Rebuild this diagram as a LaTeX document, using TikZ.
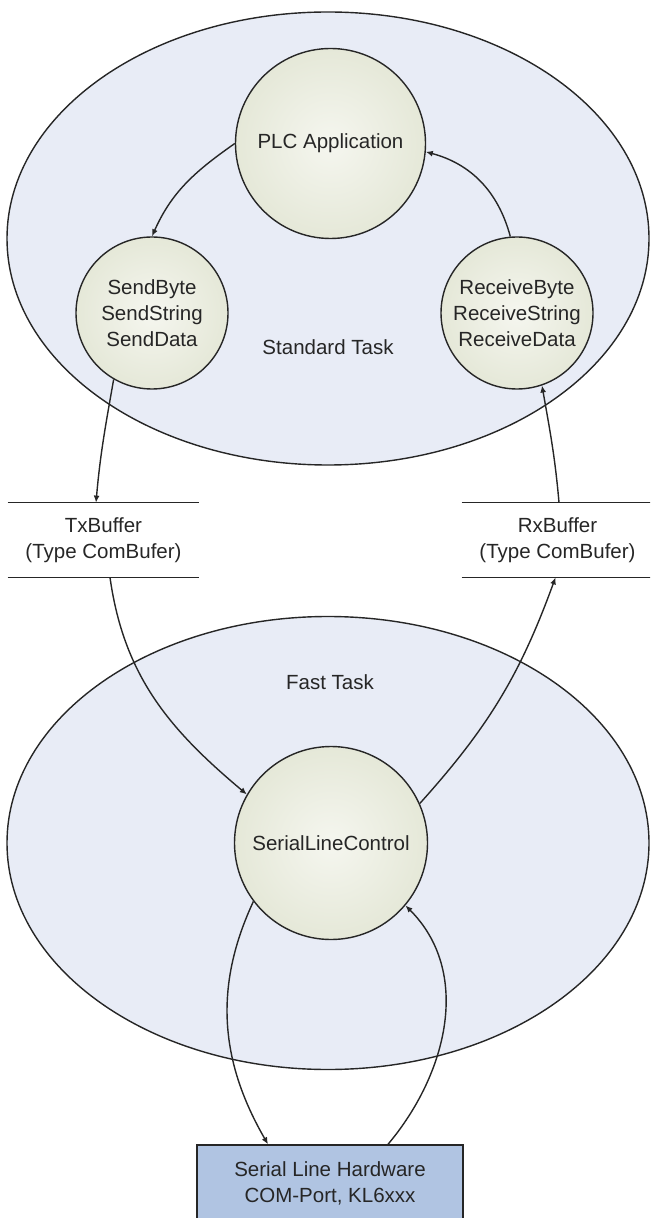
\documentclass[tikz,border=0pt]{standalone}
\usepackage{fontspec}
\setmainfont{Liberation Sans}
\usetikzlibrary{shapes.geometric,arrows.meta}
\definecolor{taskfill}{HTML}{E8ECF6}
\definecolor{circin}{HTML}{F5F6EF}
\definecolor{circout}{HTML}{E5E8D8}
\definecolor{hwfill}{HTML}{B0C4E2}
\definecolor{ink}{HTML}{262626}
\begin{document}
\begin{tikzpicture}[x=0.5pt,y=0.5pt,
  font=\fontsize{10.25}{13}\selectfont, text=ink,
  task/.style={ellipse, draw=ink, fill=taskfill, line width=0.7pt,
    minimum width=321pt, minimum height=226.5pt, inner sep=0pt},
  func/.style={circle, draw=ink, line width=0.7pt, inner color=circin,
    outer color=circout, inner sep=0pt, align=center},
  buffer/.style={minimum width=95.5pt, minimum height=37pt, inner sep=0pt, align=center},
  hwbox/.style={rectangle, draw=ink, fill=hwfill, line width=0.7pt,
    minimum width=133pt, minimum height=38pt, inner sep=0pt, align=center},
  flow/.style={draw=ink, line width=0.7pt, -{Latex[length=3.5pt,width=3pt]}},
  bufline/.style={draw=ink, line width=0.8pt}]
\useasboundingbox (0,0) rectangle (650,-1218);
\clip (0,0) rectangle (650,-1218);

% task ellipses
\node[task] (std) at (328,-238.5) {};
\node[task] (fast) at (328,-843) {};

% function circles
\node[func, minimum size=95pt] (plc) at (330.5,-143.5) {PLC Application};
\node[func, minimum size=76pt] (send) at (152,-313) {SendByte\\SendString\\SendData};
\node[func, minimum size=76pt] (recv) at (517,-313) {ReceiveByte\\ReceiveString\\ReceiveData};
\node[func, minimum size=96.5pt] (slc) at (331,-843) {SerialLineControl};

% labels
\node (stdlabel) at (328,-347) {Standard Task};
\node (fastlabel) at (330,-682) {Fast Task};

% buffers
\node[buffer] (tx) at (103.5,-540) {TxBuffer\\(Type ComBufer)};
\node[buffer] (rx) at (557.5,-540) {RxBuffer\\(Type ComBufer)};
\draw[bufline] (tx.north west) -- (tx.north east) (tx.south west) -- (tx.south east);
\draw[bufline] (rx.north west) -- (rx.north east) (rx.south west) -- (rx.south east);

% hardware
\node[hwbox] (hw) at (330,-1183) {Serial Line Hardware\\COM-Port, KL6xxx};

% connectors
\draw[flow] (plc.west) to[out=215, in=66] (send.north);
\draw[flow] (recv.95) to[out=105, in=-15] (plc.-5);
\draw[flow] (send.240) to[out=260, in=85] ([xshift=-3.75pt]tx.north);
\draw[flow] ([xshift=0.75pt]rx.north) to[out=95, in=280] (recv.289);
\draw[flow] ([xshift=3.25pt]tx.south) to[out=-82, in=140] (slc.150);
\draw[flow] (slc.24) to[out=48, in=-110] ([xshift=-1pt]rx.south);
\draw[flow] (slc.217) to[out=245, in=120] ([xshift=-31pt]hw.north);
\draw[flow] ([xshift=29pt]hw.north) to[out=50, in=-45] (slc.-40);
\end{tikzpicture}
\end{document}
